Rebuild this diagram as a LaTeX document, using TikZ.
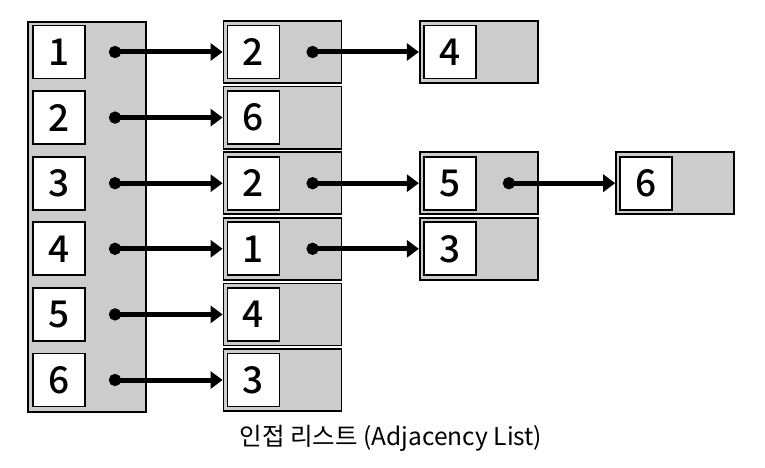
\documentclass[tikz,border=0pt]{standalone}
\usepackage{fontspec}
\setmainfont{Noto Sans CJK KR}
\newfontfamily\keyfont{Noto Sans CJK KR Medium}
\usetikzlibrary{positioning,arrows.meta}
\tikzset{
  cell/.style={draw, line width=1.8pt, fill=black!20, minimum width=118pt, minimum height=62pt, inner sep=0pt},
  key/.style={draw, line width=1.8pt, fill=white, minimum width=52pt, minimum height=53pt, inner sep=0pt,
    font=\keyfont\fontsize{37}{40}\selectfont},
  link/.style={line width=5pt, {Circle[length=12pt]}-{Triangle[length=12pt,width=17pt]}, shorten <=-6pt}
}
\begin{document}
\begin{tikzpicture}[x=1pt, y=-1pt]
\useasboundingbox (0,0) rectangle (765,468);
\node[cell, minimum height=390pt] (col) at (87,217) {};
\foreach \i in {1,...,6} {
    \node[key] (h\i) at (59, {52+65.6*(\i-1)}) {\i};
    \coordinate (d\i-0) at (115, {52+65.6*(\i-1)});
}
\foreach \r/\lst in {1/{2,4}, 2/{6}, 3/{2,5,6}, 4/{1,3}, 5/{4}, 6/{3}} {
    \foreach \v [count=\c] in \lst {
        \pgfmathtruncatemacro\p{\c-1}
        \node[cell] (c\r-\c) at ({86.2+196.3*\c}, {52+65.6*(\r-1)}) {};
        \node[key, right=4pt of c\r-\c.west] (k\r-\c) {\v};
        \coordinate (d\r-\c) at ([xshift=90pt]c\r-\c.west);
        \draw[link] (d\r-\p) -- (c\r-\c.west);
    }
}
\node[font=\fontsize{24.5}{28}\selectfont] (title) at (391,438) {인접 리스트 (Adjacency List)};
\end{tikzpicture}
\end{document}
